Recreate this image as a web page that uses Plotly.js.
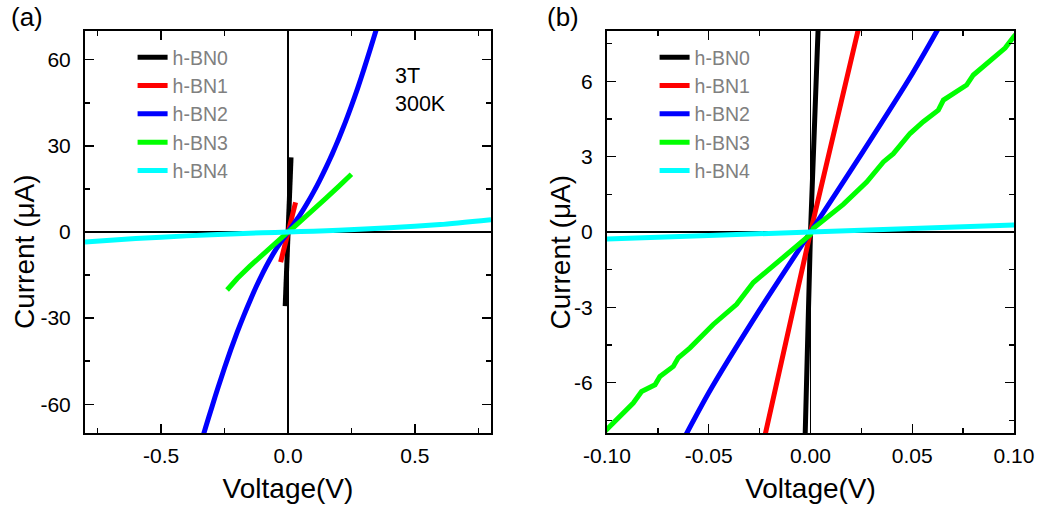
<!DOCTYPE html>
<html><head><meta charset="utf-8">
<script src="https://cdn.plot.ly/plotly-3.0.1.min.js"></script>
<style>html,body{margin:0;padding:0;background:#fff}#chart{width:1044px;height:510px}</style>
</head><body><div id="chart"></div>
<script>
// ---- data (voltage in V, current in uA) ----
const seriesNames = ['h-BN0', 'h-BN1', 'h-BN2', 'h-BN3', 'h-BN4'];
const seriesColors = ['#000000', '#ff0000', '#0000ff', '#00ff00', '#00ffff'];

const voltBN0 = [-0.011, -0.0026, 0, 0.0028, 0.012];
const currBN0 = [-25.8, -8, 0, 8, 26];

const voltBN1 = [-0.029, -0.0222, 0, 0.0233, 0.030];
const currBN1 = [-10.5, -8, 0, 8, 10.3];

const voltBN2 = [-0.34, -0.325, -0.3, -0.275, -0.25, -0.225, -0.2, -0.175, -0.15, -0.125, -0.1, -0.075, -0.05, -0.025, 0,
                 0.025, 0.05, 0.075, 0.1, 0.125, 0.15, 0.175, 0.2, 0.225, 0.25, 0.275, 0.3, 0.325, 0.35];
const currBN2 = [-72.6, -68.2, -61.0, -54.0, -47.3, -40.9, -34.9, -29.3, -24.0, -19.0, -14.4, -10.2, -6.4, -3.1, 0,
                 3.1, 6.3, 9.9, 13.8, 18.0, 22.5, 27.3, 32.5, 38.0, 43.9, 50.2, 56.9, 63.9, 71.1];

const voltBN3 = [-0.24, -0.2, -0.15, -0.1, -0.0985, -0.092, -0.0871, -0.083, -0.0764, -0.074, -0.0674, -0.065, -0.0592, -0.0478, -0.0412, -0.0363, -0.0281, -0.0166, -0.0068, 0, 0.0014, 0.0161, 0.0276, 0.0358, 0.0407, 0.0489, 0.0554, 0.0628, 0.0653, 0.0767, 0.08, 0.0866, 0.0956, 0.1, 0.15, 0.2, 0.25];
const currBN3 = [-20.2, -16.2, -11.9, -7.8, -7.68, -7.21, -6.81, -6.35, -6.08, -5.75, -5.35, -5.01, -4.61, -3.68, -3.21, -2.88, -2.01, -1.21, -0.55, -0.1, 0.15, 1.1, 1.99, 2.79, 3.12, 3.92, 4.39, 4.85, 5.25, 5.85, 6.25, 6.72, 7.32, 7.79, 11.8, 15.9, 20.1];

const voltBN4 = [-0.8, -0.6, -0.4, -0.2, -0.1, 0, 0.1, 0.2, 0.4, 0.6, 0.8];
const currBN4 = [-3.5, -2.3, -1.35, -0.6, -0.28, 0, 0.28, 0.6, 1.45, 2.6, 4.3];

// ticks
const xTicksA = [-0.5, 0, 0.5];
const xTickTextA = ['-0.5', '0.0', '0.5'];
const xMinorA = [-0.75, -0.25, 0.25, 0.75];
const yTicksA = [-60, -30, 0, 30, 60];
const yTickTextA = ['-60', '-30', '0', '30', '60'];
const yMinorA = [-45, -15, 15, 45];

const xTicksB = [-0.1, -0.05, 0, 0.05, 0.1];
const xTickTextB = ['-0.10', '-0.05', '0.00', '0.05', '0.10'];
const xMinorB = [-0.075, -0.025, 0.025, 0.075];
const yTicksB = [-6, -3, 0, 3, 6];
const yTickTextB = ['-6', '-3', '0', '3', '6'];
const yMinorB = [-7.5, -4.5, -1.5, 1.5, 4.5, 7.5];

const xTitle = 'Voltage(V)';
const yTitle = 'Current (μA)';

const volts = [voltBN0, voltBN1, voltBN2, voltBN3, voltBN4];
const currs = [currBN0, currBN1, currBN2, currBN3, currBN4];
const smoothCurve = [false, false, true, false, true];

const FONT = 'Arial, "Liberation Sans", sans-serif';
const traces = [];
['', '2'].forEach(function (suffix) {
  for (let i = 0; i < 5; i++) {
    const line = {color: seriesColors[i], width: 5};
    if (smoothCurve[i]) { line.shape = 'spline'; line.smoothing = 0.6; }
    traces.push({
      type: 'scatter', mode: 'lines',
      x: volts[i], y: currs[i], name: seriesNames[i],
      line: line,
      xaxis: 'x' + suffix, yaxis: 'y' + suffix,
      legend: suffix ? 'legend2' : 'legend',
      showlegend: true
    });
  }
});

function axisBase(range, tv, tt, minorVals, standoff) {
  return {
    range: range, tickmode: 'array', tickvals: tv, ticktext: tt,
    ticks: 'inside', ticklen: 9, tickwidth: 1.5, tickcolor: '#000',
    showline: true, linewidth: 2, linecolor: '#000', mirror: 'allticks',
    showgrid: false, zeroline: true, zerolinecolor: '#000', zerolinewidth: 1.5,
    minor: {tickmode: 'array', tickvals: minorVals, ticks: 'inside', ticklen: 5, tickwidth: 1.5, tickcolor: '#000', showgrid: false},
    tickfont: {family: FONT, size: 21, color: '#000'},
    ticklabelstandoff: standoff,
    fixedrange: true
  };
}

const titleFont = {family: FONT, size: 28, color: '#000'};
const xa = axisBase([-0.8, 0.8], xTicksA, xTickTextA, xMinorA, 3);
Object.assign(xa, {domain: [0.0814, 0.4703], anchor: 'y', title: {text: xTitle, font: titleFont, standoff: 12}});
const ya = axisBase([-70, 70], yTicksA, yTickTextA, yMinorA, 8);
Object.assign(ya, {domain: [0.151, 0.9392], anchor: 'x'});
const xb = axisBase([-0.1, 0.1], xTicksB, xTickTextB, xMinorB, 3);
Object.assign(xb, {domain: [0.5814, 0.9713], anchor: 'y2', title: {text: xTitle, font: titleFont, standoff: 12}});
const yb = axisBase([-8, 8], yTicksB, yTickTextB, yMinorB, 8);
Object.assign(yb, {domain: [0.151, 0.9392], anchor: 'x2'});

const legendStyle = {
  bgcolor: 'rgba(0,0,0,0)', borderwidth: 0,
  font: {family: FONT, size: 19.5, color: '#808080'},
  xanchor: 'left', yanchor: 'top', tracegroupgap: 0, itemwidth: 30
};

const layout = {
  width: 1044, height: 510,
  margin: {l: 0, r: 0, t: 0, b: 0},
  paper_bgcolor: '#fff', plot_bgcolor: '#fff',
  font: {family: FONT, color: '#000'},
  xaxis: xa, yaxis: ya, xaxis2: xb, yaxis2: yb,
  legend: Object.assign({x: 0.127, y: 0.9255}, legendStyle),
  legend2: Object.assign({x: 0.627, y: 0.9255}, legendStyle),
  annotations: [
    {xref: 'paper', yref: 'paper', x: 0.024, y: 0.506, xanchor: 'center', yanchor: 'middle', textangle: -90, showarrow: false, text: yTitle, font: titleFont},
    {xref: 'paper', yref: 'paper', x: 0.537, y: 0.506, xanchor: 'center', yanchor: 'middle', textangle: -90, showarrow: false, text: yTitle, font: titleFont},
    {xref: 'paper', yref: 'paper', x: 0.009, y: 1.0, xanchor: 'left', yanchor: 'top', showarrow: false, text: '(a)', font: {family: FONT, size: 26, color: '#000'}},
    {xref: 'paper', yref: 'paper', x: 0.522, y: 1.0, xanchor: 'left', yanchor: 'top', showarrow: false, text: '(b)', font: {family: FONT, size: 26, color: '#000'}},
    {xref: 'paper', yref: 'paper', x: 0.376, y: 0.878, xanchor: 'left', yanchor: 'top', showarrow: false, align: 'left', text: '3T<br>300K', font: {family: FONT, size: 21.5, color: '#000'}}
  ]
};

Plotly.newPlot('chart', traces, layout, {staticPlot: true, displayModeBar: false});
</script></body></html>
